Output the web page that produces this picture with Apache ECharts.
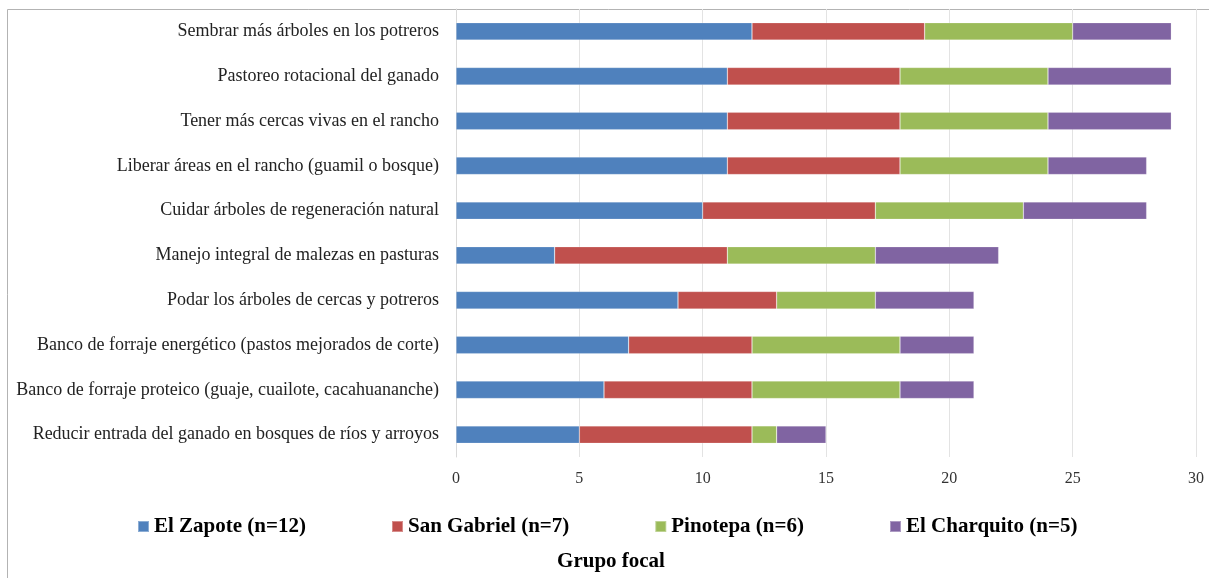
<!DOCTYPE html>
<html>
<head>
<meta charset="utf-8">
<script src="https://cdn.jsdelivr.net/npm/echarts@6/dist/echarts.min.js"></script>
<style>
  html, body { margin: 0; padding: 0; background: #fff; }
  #chart { width: 1209px; height: 578px; }
</style>
</head>
<body>
<div id="chart"></div>
<script>
// Prácticas silvopastoriles priorizadas por grupo focal
const categories = [
  'Sembrar más árboles en los potreros',
  'Pastoreo rotacional del ganado',
  'Tener más cercas vivas en el rancho',
  'Liberar áreas en el rancho (guamil o bosque)',
  'Cuidar árboles de regeneración natural',
  'Manejo integral de malezas en pasturas',
  'Podar los árboles de cercas y potreros',
  'Banco de forraje energético (pastos mejorados de corte)',
  'Banco de forraje proteico (guaje, cuailote, cacahuananche)',
  'Reducir entrada del ganado en bosques de ríos y arroyos'
];

const seriesNames = ['El Zapote (n=12)', 'San Gabriel (n=7)', 'Pinotepa (n=6)', 'El Charquito (n=5)'];

const elZapote    = [12, 11, 11, 11, 10, 4, 9, 7, 6, 5];
const sanGabriel  = [7, 7, 7, 7, 7, 7, 4, 5, 6, 7];
const pinotepa    = [6, 6, 6, 6, 6, 6, 4, 6, 6, 1];
const elCharquito = [4, 5, 5, 4, 5, 5, 4, 3, 3, 2];

const xTicks = { min: 0, max: 30, interval: 5 };

const colors = ['#4F81BD', '#C0504D', '#9BBB59', '#8064A2'];
const seriesData = [elZapote, sanGabriel, pinotepa, elCharquito];

const chart = echarts.init(document.getElementById('chart'));

chart.setOption({
  animation: false,
  color: colors,
  textStyle: { fontFamily: '"Liberation Serif", serif' },
  graphic: [{
    type: 'rect',
    shape: { x: 7.5, y: 9.5, width: 1300, height: 700 },
    style: { fill: 'none', stroke: '#b3b3b3', lineWidth: 1 },
    z: -10
  }],
  grid: { left: 456, right: 13, top: 9, bottom: 121, containLabel: false },
  legend: {
    data: seriesNames,
    left: 132,
    top: 511,
    itemWidth: 11,
    itemHeight: 11,
    itemGap: 85,
    icon: 'rect',
    textStyle: {
      fontFamily: '"Liberation Serif", serif',
      fontWeight: 'bold',
      fontSize: 21,
      color: '#000'
    }
  },
  title: {
    text: 'Grupo focal',
    left: 606,
    textAlign: 'center',
    top: 546,
    textStyle: {
      fontFamily: '"Liberation Serif", serif',
      fontWeight: 'bold',
      fontSize: 21,
      color: '#000'
    }
  },
  xAxis: {
    type: 'value',
    min: xTicks.min,
    max: xTicks.max,
    interval: xTicks.interval,
    axisLine: { show: false },
    axisTick: { show: false },
    splitLine: { lineStyle: { color: '#e3e3e3', width: 1 } },
    axisLabel: {
      margin: 14,
      fontSize: 16,
      color: '#333',
      fontFamily: '"Liberation Serif", serif'
    }
  },
  yAxis: {
    type: 'category',
    data: categories,
    inverse: true,
    axisLine: { lineStyle: { color: '#d9d9d9' } },
    axisTick: { show: false },
    axisLabel: {
      margin: 17,
      fontSize: 18,
      color: '#222',
      fontFamily: '"Liberation Serif", serif'
    }
  },
  series: seriesNames.map((name, i) => ({
    name: name,
    type: 'bar',
    stack: 'total',
    data: seriesData[i],
    barWidth: '39%',
    itemStyle: { color: colors[i], borderColor: 'rgba(255,255,255,0.35)', borderWidth: 0.6 }
  }))
});
</script>
</body>
</html>
